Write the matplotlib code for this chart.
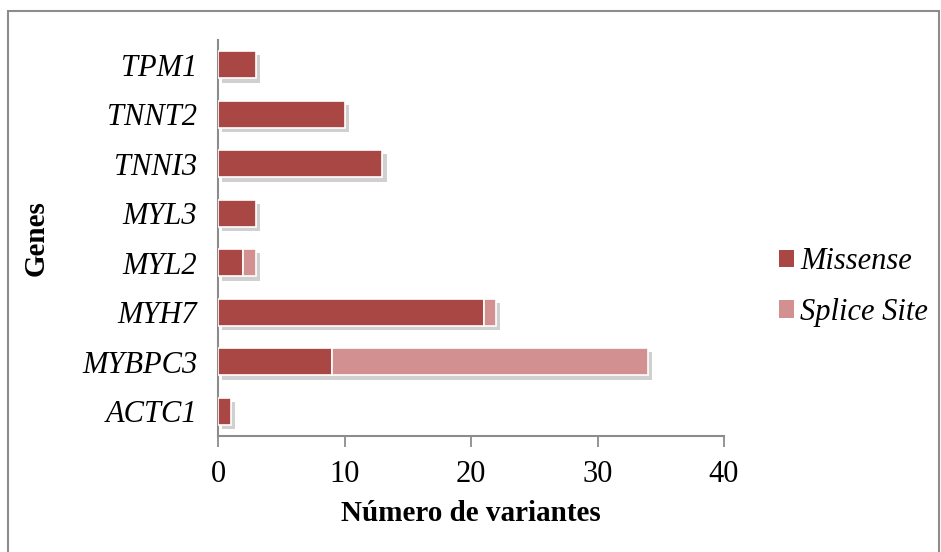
import matplotlib.pyplot as plt
import matplotlib.patheffects as pe
from matplotlib.patches import Rectangle, Patch

genes = ['ACTC1', 'MYBPC3', 'MYH7', 'MYL2', 'MYL3', 'TNNI3', 'TNNT2', 'TPM1']
missense = [1, 9, 21, 2, 3, 13, 10, 3]
splice_site = [0, 25, 1, 1, 0, 0, 0, 0]

missense_color = '#A94745'
splice_color = '#D39090'

plt.rcParams['font.family'] = ['Liberation Serif', 'DejaVu Serif']

fig = plt.figure(figsize=(9.41, 5.52), dpi=100)
ax = fig.add_axes([218 / 941, 1 - 436 / 552, 506 / 941, 396 / 552])

# outer chart frame
fig.patches.append(Rectangle((8 / 941, -0.1), 931 / 941, 1.1 - 11 / 552,
                             transform=fig.transFigure, fill=False,
                             edgecolor='#8c8c8c', linewidth=1.5))

shadow = [pe.SimplePatchShadow(offset=(3, -3), shadow_rgbFace='#666666', alpha=0.3),
          pe.Normal()]

ypos = list(range(len(genes)))
ax.barh(ypos, missense, height=0.55, color=missense_color, edgecolor='white',
        linewidth=1.2, path_effects=shadow, zorder=3)
# splice site segments only where there are any
sp_y = [y for y, s in zip(ypos, splice_site) if s]
sp_w = [s for s in splice_site if s]
sp_l = [m for m, s in zip(missense, splice_site) if s]
ax.barh(sp_y, sp_w, left=sp_l, height=0.55, color=splice_color,
        edgecolor='white', linewidth=1.2, path_effects=shadow, zorder=3)

ax.set_xlim(0, 40)
ax.set_ylim(-0.5, len(genes) - 0.5)
ax.set_xticks([0, 10, 20, 30, 40])
ax.set_yticks(ypos)
ax.set_yticklabels(genes, fontstyle='italic', fontsize=22)
ax.tick_params(axis='x', labelsize=22, length=8, width=1.3, color='#8c8c8c', pad=9)
ax.tick_params(axis='y', length=0, pad=15)

for side in ['top', 'right']:
    ax.spines[side].set_visible(False)
for side in ['left', 'bottom']:
    ax.spines[side].set_color('#8c8c8c')
    ax.spines[side].set_linewidth(1.5)

ax.set_xlabel('Número de variantes', fontsize=21, fontweight='bold', labelpad=8)
ax.set_ylabel('Genes', fontsize=21, fontweight='bold')
ax.yaxis.set_label_coords(-168 / 506, 0.5)

handles = [Patch(facecolor=missense_color, label='Missense'),
           Patch(facecolor=splice_color, label='Splice Site')]
ax.legend(handles=handles, loc='center left', bbox_to_anchor=(533 / 506, 0.376),
          frameon=False, prop={'style': 'italic', 'size': 22}, handlelength=0.5,
          handleheight=0.5, handletextpad=0.2, labelspacing=0.7)

fig.savefig('out.png', dpi=100)
